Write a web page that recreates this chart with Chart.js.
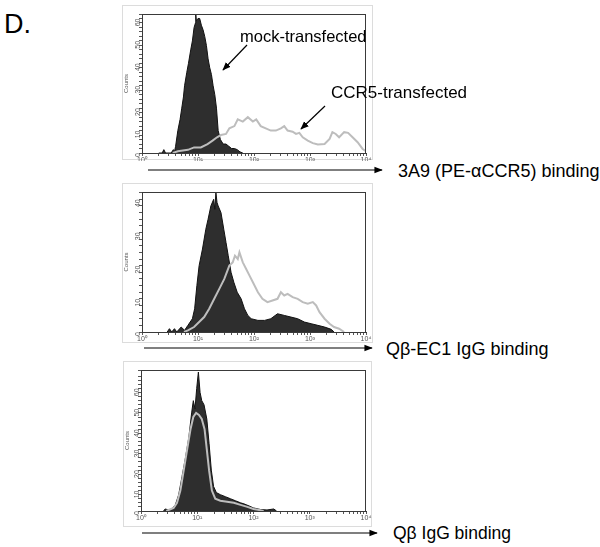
<!DOCTYPE html>
<html lang="en">
<head>
<meta charset="UTF-8">
<title>CCR5 binding histograms</title>
<script src="https://cdn.jsdelivr.net/npm/chart.js"></script>
<style>
  body { margin: 0; background: #fff; font-family: Arial, "Liberation Sans", sans-serif; }
  #page { position: relative; width: 600px; height: 547px; overflow: hidden; }
  .frame { position: absolute; border: 1px solid #dcdcdc; box-sizing: border-box; }
  .frame canvas { position: absolute; left: 0; top: 0; }
  .lbl { position: absolute; white-space: nowrap; color: #000; transform: translateY(-50%); line-height: 1; }
  svg { position: absolute; left: 0; top: 0; }
</style>
</head>
<body>
<div id="page">
  <div class="lbl" style="left:4px; top:24px; font-size:27px;">D.</div>

  <div class="frame" style="left:122px; top:5px; width:251px; height:155px;"><canvas id="c1" width="251" height="155"></canvas></div>
  <div class="frame" style="left:122px; top:183px; width:251px; height:160px;"><canvas id="c2" width="251" height="160"></canvas></div>
  <div class="frame" style="left:123px; top:361px; width:249px; height:166px;"><canvas id="c3" width="249" height="166"></canvas></div>

  <div class="lbl" style="left:240px; top:36px; font-size:16.5px;">mock-transfected</div>
  <div class="lbl" style="left:331px; top:92px; font-size:17px;">CCR5-transfected</div>

  <div class="lbl" style="left:398px; top:171px; font-size:18px;">3A9 (PE-αCCR5) binding</div>
  <div class="lbl" style="left:386px; top:349px; font-size:18px;">Qβ-EC1 IgG binding</div>
  <div class="lbl" style="left:393px; top:534px; font-size:17.5px;">Qβ IgG binding</div>

  <svg width="600" height="547">
    <defs>
      <marker id="ah" viewBox="0 0 10 10" refX="9" refY="5" markerWidth="7" markerHeight="7" orient="auto">
        <path d="M0,1 L10,5 L0,9 z" fill="#000"/>
      </marker>
    </defs>
    <line x1="247" y1="45" x2="223" y2="70" stroke="#000" stroke-width="1.2" marker-end="url(#ah)"/>
    <line x1="325" y1="106" x2="301" y2="129" stroke="#000" stroke-width="1.2" marker-end="url(#ah)"/>
    <line x1="148" y1="170" x2="382" y2="170" stroke="#000" stroke-width="1.2" marker-end="url(#ah)"/>
    <line x1="144" y1="348" x2="372" y2="348" stroke="#000" stroke-width="1.2" marker-end="url(#ah)"/>
    <line x1="142" y1="533" x2="377" y2="533" stroke="#000" stroke-width="1.2" marker-end="url(#ah)"/>
  </svg>
</div>

<script>
// --- DATA (x = log10 fluorescence, y = counts) ---
const xTickLabels = ['10\u2070', '10\u00b9', '10\u00b2', '10\u00b3', '10\u2074'];
const yMaxes = [62, 42.2, 69];

// panel 1: 3A9 (PE-aCCR5)
const mock1X = [0.30,0.36,0.39,0.42,0.52,0.56,0.58,0.60,0.64,0.68,0.71,0.74,0.76,0.80,0.83,0.87,0.90,0.93,0.955,0.96,0.97,1.00,1.03,1.06,1.09,1.12,1.15,1.18,1.21,1.24,1.27,1.30,1.33,1.36,1.40,1.45,1.50,1.55,1.60,1.65,1.70,1.75,1.80];
const mock1Y = [0,0,1.5,0,0,1.5,0.5,3,10,15,20,25,30,36,40,46,50,56,58,62,59,60,60,57,55,52,48,42,38,35,30,26,20,10,6,4,4,3,2,2,1.5,0.5,0];
const ccr1X = [0.55,0.64,0.82,0.93,1.05,1.17,1.26,1.34,1.41,1.50,1.56,1.65,1.71,1.80,1.89,1.98,2.04,2.12,2.21,2.30,2.39,2.48,2.54,2.60,2.69,2.75,2.81,2.87,2.96,3.05,3.14,3.26,3.35,3.40,3.46,3.52,3.61,3.68,3.76,3.85,3.94,4.00];
const ccr1Y = [0,0.8,1.4,2.5,2.5,4,5.5,7,8,8.5,11,12,15,14,16,14,15,12,11,10,10,11,12,10,9.5,8.5,9,7,5.5,4.4,3.8,4,6.3,9.3,8.5,7,9.3,9,7,4.8,1.8,0.8];

// panel 2: Qb-EC1 IgG
const mock2X = [0.45,0.49,0.53,0.58,0.62,0.70,0.76,0.82,0.90,0.94,0.98,1.02,1.08,1.14,1.18,1.23,1.28,1.30,1.32,1.34,1.36,1.41,1.46,1.50,1.54,1.59,1.64,1.70,1.77,1.83,1.89,1.95,2.07,2.19,2.30,2.42,2.54,2.66,2.78,2.90,3.02,3.14,3.26,3.38,3.43];
const mock2Y = [0,1,0,1,0,1.5,0.5,2,4,7,14,20,25,31,34,38,40,37,42,39,38,36,31,27,23,18,15,12,10,7,5,4,3.5,3.5,4,5.5,5,4.5,4,3,2.5,2,1.5,0.8,0];
const ccr2X = [0.75,0.82,0.93,1.02,1.11,1.20,1.29,1.38,1.47,1.56,1.62,1.66,1.71,1.74,1.80,1.86,1.92,1.98,2.07,2.15,2.24,2.33,2.42,2.48,2.54,2.60,2.69,2.78,2.87,2.96,3.05,3.11,3.17,3.26,3.35,3.43,3.52,3.61];
const ccr2Y = [0,0.5,1.5,3,4.5,7,10,13,16,20,21,23,22,24,21,19,17,15,12,10,9,9.5,10,12,11,11.5,10.5,10,9,8.5,9,8,6,4,2.5,1.5,1,0];

// panel 3: Qb IgG
const mock3X = [0.40,0.43,0.49,0.55,0.61,0.67,0.73,0.79,0.85,0.90,0.93,0.96,0.99,1.02,1.05,1.08,1.12,1.17,1.21,1.25,1.29,1.34,1.41,1.50,1.59,1.68,1.77,1.83,1.92,2.00,2.13,2.24,2.36,2.41];
const mock3Y = [0,1,0.5,1,3,8,17,26,36,48,54,50,60,68,58,54,52,45,33,20,12,9,8,7,6,5,4,3.5,2.5,1.5,0.7,0.5,1,0];
const ccr3X = [0.45,0.49,0.58,0.64,0.70,0.76,0.82,0.88,0.93,0.98,1.03,1.08,1.13,1.17,1.21,1.26,1.32,1.41,1.53,1.65,1.77,1.89,2.00,2.10,2.18];
const ccr3Y = [0,0.5,1.5,4,10,20,30,40,46,48,47,45,40,30,20,10,6,5,4.5,4,3,2,1,0.5,0];

// --- CHARTS ---
const panels = [
  { id: 'c1', mockX: mock1X, mockY: mock1Y, ccrX: ccr1X, ccrY: ccr1Y, yMax: yMaxes[0], yW: 19, xH: 8,  pad: { top: 8, right: 8 } },
  { id: 'c2', mockX: mock2X, mockY: mock2Y, ccrX: ccr2X, ccrY: ccr2Y, yMax: yMaxes[1], yW: 19, xH: 12, pad: { top: 8, right: 8 } },
  { id: 'c3', mockX: mock3X, mockY: mock3Y, ccrX: ccr3X, ccrY: ccr3Y, yMax: yMaxes[2], yW: 17, xH: 17, pad: { top: 8, right: 7 } }
];

const plotBorder = {
  id: 'plotBorder',
  afterDatasetsDraw(chart) {
    const a = chart.chartArea, ctx = chart.ctx;
    ctx.save();
    ctx.strokeStyle = '#3a3a3a';
    ctx.lineWidth = 1;
    ctx.strokeRect(a.left + 0.5, a.top + 0.5, a.right - a.left - 1, a.bottom - a.top);
    ctx.restore();
  }
};

const pts = (xs, ys) => xs.map((x, i) => ({ x: x, y: ys[i] }));
const tickFont = { size: 7, family: 'Arial, "Liberation Sans", sans-serif' };

panels.forEach(p => {
  new Chart(document.getElementById(p.id), {
    type: 'line',
    data: {
      datasets: [
        { label: 'CCR5-transfected', data: pts(p.ccrX, p.ccrY), borderColor: '#bdbdbd', borderWidth: 2, fill: false, pointRadius: 0, tension: 0, order: 0 },
        { label: 'mock-transfected', data: pts(p.mockX, p.mockY), borderColor: '#111', borderWidth: 1, backgroundColor: '#2e2e2e', fill: 'origin', pointRadius: 0, tension: 0, order: 1 }
      ]
    },
    options: {
      responsive: false,
      animation: false,
      devicePixelRatio: 1,
      layout: { padding: { left: 0, top: p.pad.top, right: p.pad.right, bottom: 0 } },
      plugins: { legend: { display: false }, tooltip: { enabled: false } },
      scales: {
        x: {
          type: 'linear', min: 0, max: 4,
          afterBuildTicks(scale) {
            const t = [];
            for (let d = 0; d < 4; d++) for (let k = 1; k < 10; k++) t.push({ value: d + Math.log10(k) });
            t.push({ value: 4 });
            scale.ticks = t;
          },
          afterFit(scale) { scale.height = p.xH; },
          ticks: {
            autoSkip: false, maxRotation: 0, padding: 0, color: '#555', font: tickFont,
            callback: v => Number.isInteger(v) ? xTickLabels[v] : ''
          },
          grid: { drawOnChartArea: false, tickLength: 3, tickColor: '#555' },
          border: { display: true, color: '#3a3a3a' }
        },
        y: {
          min: 0, max: p.yMax,
          afterFit(scale) { scale.width = p.yW; },
          title: { display: true, text: 'Counts', color: '#555', padding: 0, font: { size: 6, family: 'Arial, "Liberation Sans", sans-serif' } },
          ticks: {
            stepSize: 2, autoSkip: false, minRotation: 90, maxRotation: 90, padding: 1, color: '#555', font: tickFont,
            callback: v => (v % 10 === 0 ? String(v) : '')
          },
          grid: { drawOnChartArea: false, tickLength: 3, tickColor: '#555' },
          border: { display: true, color: '#3a3a3a' }
        }
      }
    },
    plugins: [plotBorder]
  });
});
</script>
</body>
</html>
